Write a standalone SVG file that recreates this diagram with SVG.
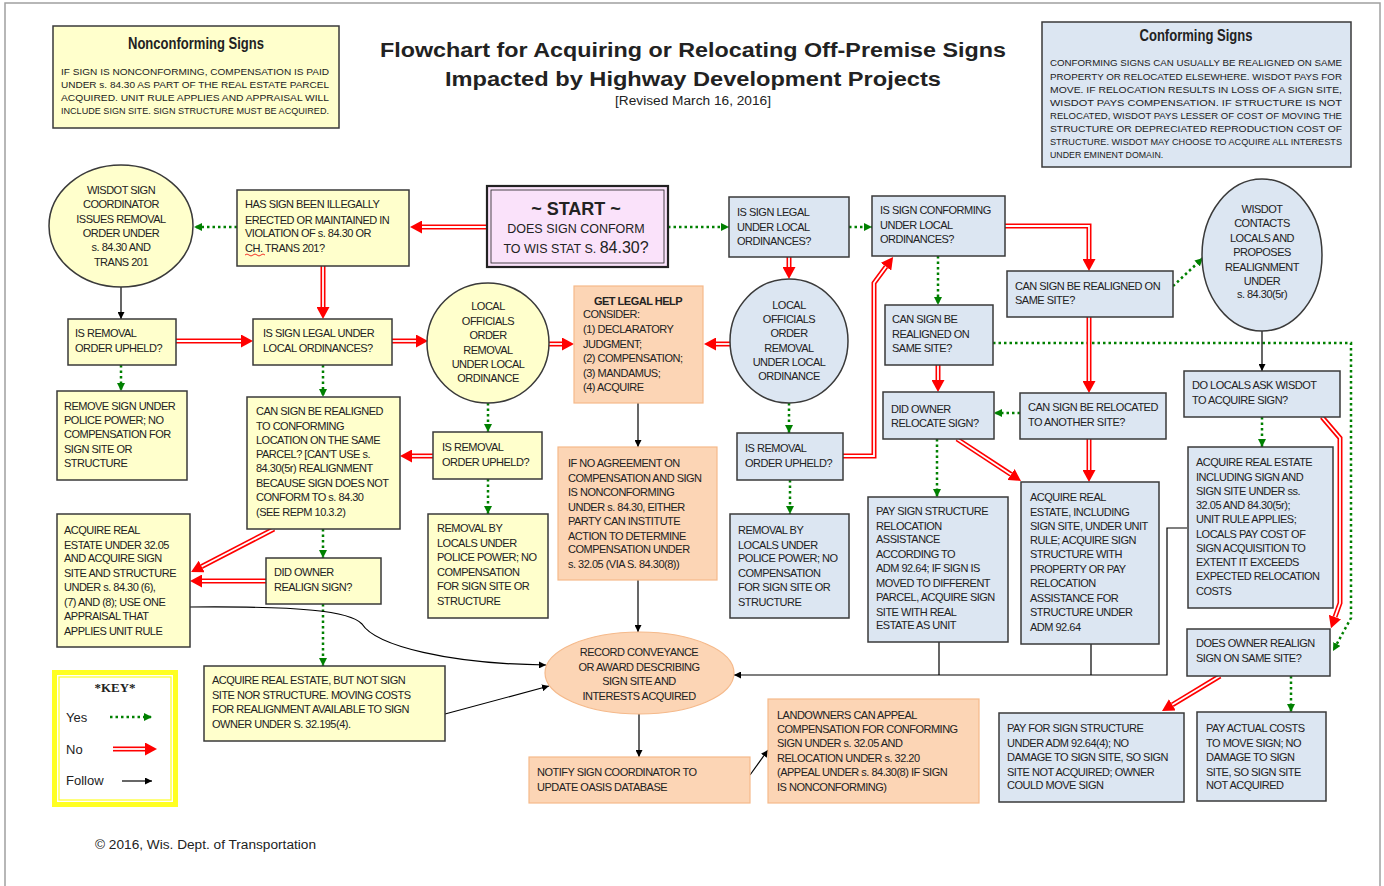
<svg xmlns="http://www.w3.org/2000/svg" width="1384" height="886" viewBox="0 0 1384 886">
<style>
text{font-family:"Liberation Sans",Arial,sans-serif;fill:#222}
.t{font-size:11px;letter-spacing:-0.5px}
.c{text-anchor:middle}
.j{font-size:8.8px}
.y{fill:#ffffcc;stroke:#3a3a3a;stroke-width:1.5}
.b{fill:#dce6f2;stroke:#3a3a3a;stroke-width:1.5}
.o{fill:#fcd5b5;stroke:#f5b98a;stroke-width:1.2}
.g{fill:none;stroke:#008000;stroke-width:2.5;stroke-dasharray:2.5 3;marker-end:url(#mg)}
.rd{fill:none;stroke:#ff0000;stroke-width:5;marker-end:url(#mr)}
.rw{fill:none;stroke:#fff;stroke-width:1.8}
.k{fill:none;stroke:#000;stroke-width:1.2;marker-end:url(#mk)}
</style>
<defs>
<marker id="mg" viewBox="0 0 8 8" refX="8" refY="4" markerWidth="8" markerHeight="8" markerUnits="userSpaceOnUse" orient="auto"><path d="M0,0 L8,4 L0,8 z" fill="#008000"/></marker>
<marker id="mr" viewBox="0 0 12 13" refX="0" refY="6.5" markerWidth="12" markerHeight="13" markerUnits="userSpaceOnUse" orient="auto"><path d="M0,0 L12,6.5 L0,13 z" fill="#ff0000"/></marker>
<marker id="mk" viewBox="0 0 7 7" refX="7" refY="3.5" markerWidth="7" markerHeight="7" markerUnits="userSpaceOnUse" orient="auto"><path d="M0,0 L7,3.5 L0,7 z" fill="#000"/></marker>
</defs>
<rect x="0" y="0" width="1384" height="886" fill="#fff"/>
<rect x="5" y="3" width="1375" height="900" fill="none" stroke="#a0a0a0" stroke-width="1.5"/>

<g id="title">
<text x="693" y="57" font-size="20" font-weight="bold" class="c" textLength="626" lengthAdjust="spacingAndGlyphs">Flowchart for Acquiring or Relocating Off-Premise Signs</text>
<text x="693" y="86" font-size="20" font-weight="bold" class="c" textLength="496" lengthAdjust="spacingAndGlyphs">Impacted by Highway Development Projects</text>
<text x="693" y="105" font-size="12" class="c" textLength="156" lengthAdjust="spacingAndGlyphs">[Revised March 16, 2016]</text>
</g>

<g id="nonconforming-note">
<rect x="53" y="26" width="286" height="102" class="y"/>
<text x="196" y="49" font-size="16" font-weight="bold" class="c" textLength="136" lengthAdjust="spacingAndGlyphs">Nonconforming Signs</text>
<text class="j" x="61" y="75" textLength="268" lengthAdjust="spacingAndGlyphs">IF SIGN IS NONCONFORMING, COMPENSATION IS PAID</text>
<text class="j" x="61" y="88" textLength="268" lengthAdjust="spacingAndGlyphs">UNDER s. 84.30 AS PART OF THE REAL ESTATE PARCEL</text>
<text class="j" x="61" y="101" textLength="268" lengthAdjust="spacingAndGlyphs">ACQUIRED. UNIT RULE APPLIES AND APPRAISAL WILL</text>
<text class="j" x="61" y="114" textLength="268" lengthAdjust="spacingAndGlyphs">INCLUDE SIGN SITE. SIGN STRUCTURE MUST BE ACQUIRED.</text>
</g>

<g id="conforming-note">
<rect x="1042" y="22" width="309" height="145" class="b"/>
<text x="1196" y="41" font-size="16" font-weight="bold" class="c" textLength="113" lengthAdjust="spacingAndGlyphs">Conforming Signs</text>
<text class="j" x="1050" y="66" textLength="292" lengthAdjust="spacingAndGlyphs">CONFORMING SIGNS CAN USUALLY BE REALIGNED ON SAME</text>
<text class="j" x="1050" y="80" textLength="292" lengthAdjust="spacingAndGlyphs">PROPERTY OR RELOCATED ELSEWHERE. WISDOT PAYS FOR</text>
<text class="j" x="1050" y="93" textLength="292" lengthAdjust="spacingAndGlyphs">MOVE. IF RELOCATION RESULTS IN LOSS OF A SIGN SITE,</text>
<text class="j" x="1050" y="106" textLength="292" lengthAdjust="spacingAndGlyphs">WISDOT PAYS COMPENSATION. IF STRUCTURE IS NOT</text>
<text class="j" x="1050" y="119" textLength="292" lengthAdjust="spacingAndGlyphs">RELOCATED, WISDOT PAYS LESSER OF COST OF MOVING THE</text>
<text class="j" x="1050" y="132" textLength="292" lengthAdjust="spacingAndGlyphs">STRUCTURE OR DEPRECIATED REPRODUCTION COST OF</text>
<text class="j" x="1050" y="145" textLength="292" lengthAdjust="spacingAndGlyphs">STRUCTURE. WISDOT MAY CHOOSE TO ACQUIRE ALL INTERESTS</text>
<text class="j" x="1050" y="158">UNDER EMINENT DOMAIN.</text>
</g>

<g id="connectors">
<!-- yes (green dotted) -->
<path class="g" d="M668,227 H729"/>
<path class="g" d="M237,227 H194"/>
<path class="g" d="M121,365 V391"/>
<path class="g" d="M323,365 V397"/>
<path class="g" d="M323,529 V558"/>
<path class="g" d="M323,604 V666"/>
<path class="g" d="M488,403 V432"/>
<path class="g" d="M488,479 V514"/>
<path class="g" d="M849,227 H872"/>
<path class="g" d="M789,403 V433"/>
<path class="g" d="M790,480 V514"/>
<path class="g" d="M938,256 V305"/>
<path class="g" d="M993,343 H1351 V618 L1333,651"/>
<path class="g" d="M1020,413 H994"/>
<path class="g" d="M937,439 V497"/>
<path class="g" d="M1173,286 L1203,258"/>
<path class="g" d="M1262,417 V447"/>
<path class="g" d="M1291,676 V712"/>
<!-- no (red double) -->
<path class="rd" d="M487,227 H422"/><path class="rw" d="M487,227 H422"/>
<path class="rd" d="M323,266 V307"/><path class="rw" d="M323,266 V307"/>
<path class="rd" d="M176,341 H241"/><path class="rw" d="M176,341 H241"/>
<path class="rd" d="M392,341 H416"/><path class="rw" d="M392,341 H416"/>
<path class="rd" d="M549,344 H562"/><path class="rw" d="M549,344 H562"/>
<path class="rd" d="M730,344 H716"/><path class="rw" d="M730,344 H716"/>
<path class="rd" d="M433,456 H412"/><path class="rw" d="M433,456 H412"/>
<path class="rd" d="M274,529 L201.7,566.5"/><path class="rw" d="M274,529 L201.7,566.5"/>
<path class="rd" d="M266,581 H202"/><path class="rw" d="M266,581 H202"/>
<path class="rd" d="M789,257 V267"/><path class="rw" d="M789,257 V267"/>
<path class="rd" d="M843,456 H874 V283 L886,266.7"/><path class="rw" d="M843,456 H874 V283 L886,266.7"/>
<path class="rd" d="M1005,226 H1089 V259"/><path class="rw" d="M1005,226 H1089 V259"/>
<path class="rd" d="M938,365 V380"/><path class="rw" d="M938,365 V380"/>
<path class="rd" d="M957,439 L1011,474.4"/><path class="rw" d="M957,439 L1011,474.4"/>
<path class="rd" d="M1089,317 V381"/><path class="rw" d="M1089,317 V381"/>
<path class="rd" d="M1089,439 V470"/><path class="rw" d="M1089,439 V470"/>
<path class="rd" d="M1322,417 L1340,438 V603 L1335,617"/><path class="rw" d="M1322,417 L1340,438 V603 L1335,617"/>
<path class="rd" d="M1220,676 L1172.3,704.8"/><path class="rw" d="M1220,676 L1172.3,704.8"/>
<!-- follow (black) -->
<path class="k" d="M121,287 V319"/>
<path class="k" d="M638,403 V447"/>
<path class="k" d="M638,580 V632"/>
<path class="k" d="M639,714 V757"/>
<path class="k" d="M750,775 L768,750"/>
<path class="k" d="M190,607 C300,606 350,611 362,624 C376,646 450,664 546,665"/>
<path class="k" d="M445,714 L549,686"/>
<path class="k" d="M1262,331 V371"/>
<path fill="none" stroke="#000" stroke-width="1.2" d="M939,642 V675 M1091,644 V675"/>
<path class="k" d="M1187,528 H1167 V675 H734"/>
</g>

<g id="start">
<rect x="487" y="186" width="181" height="81" fill="#fae2fa" stroke="#222" stroke-width="2.2"/>
<rect x="491" y="190" width="173" height="73" fill="none" stroke="#222" stroke-width="0.8"/>
<text x="576" y="215" font-size="18" font-weight="bold" class="c">~ START ~</text>
<text x="576" y="233" font-size="12.5" class="c">DOES SIGN CONFORM</text>
<text x="576" y="253" font-size="12.5" class="c">TO WIS STAT S. <tspan font-size="16">84.30?</tspan></text>
</g>

<g id="has-sign-illegal">
<rect x="237" y="190" width="172" height="76" class="y"/>
<text class="t"><tspan x="245" y="208">HAS SIGN BEEN ILLEGALLY</tspan><tspan x="245" y="224">ERECTED OR MAINTAINED IN</tspan><tspan x="245" y="237">VIOLATION OF s. 84.30 OR</tspan><tspan x="245" y="252">CH. TRANS 201?</tspan></text>
<path d="M245,255 q2,-2 4,0 t4,0 t4,0 t4,0 t4,0" fill="none" stroke="#e00" stroke-width="0.8"/>
</g>

<g id="wisdot-coordinator">
<ellipse cx="121" cy="226" rx="72" ry="61" class="y"/>
<text class="t c"><tspan x="121" y="194">WISDOT SIGN</tspan><tspan x="121" y="208">COORDINATOR</tspan><tspan x="121" y="223">ISSUES REMOVAL</tspan><tspan x="121" y="237">ORDER UNDER</tspan><tspan x="121" y="251">s. 84.30 AND</tspan><tspan x="121" y="266">TRANS 201</tspan></text>
</g>

<g id="removal-upheld-1">
<rect x="68" y="319" width="108" height="46" class="y"/>
<text class="t"><tspan x="75" y="337">IS REMOVAL</tspan><tspan x="75" y="352">ORDER UPHELD?</tspan></text>
</g>

<g id="remove-police-power">
<rect x="57" y="391" width="130" height="89" class="y"/>
<text class="t"><tspan x="64" y="410">REMOVE SIGN UNDER</tspan><tspan x="64" y="424">POLICE POWER; NO</tspan><tspan x="64" y="438">COMPENSATION FOR</tspan><tspan x="64" y="453">SIGN SITE OR</tspan><tspan x="64" y="467">STRUCTURE</tspan></text>
</g>

<g id="legal-local-1">
<rect x="253" y="319" width="139" height="46" class="y"/>
<text class="t"><tspan x="263" y="337">IS SIGN LEGAL UNDER</tspan><tspan x="263" y="352">LOCAL ORDINANCES?</tspan></text>
</g>

<g id="realign-conforming">
<rect x="247" y="397" width="153" height="132" class="y"/>
<text class="t"><tspan x="256" y="415">CAN SIGN BE REALIGNED</tspan><tspan x="256" y="430">TO CONFORMING</tspan><tspan x="256" y="444">LOCATION ON THE SAME</tspan><tspan x="256" y="458">PARCEL? [CAN'T USE s.</tspan><tspan x="256" y="472">84.30(5r) REALIGNMENT</tspan><tspan x="256" y="487">BECAUSE SIGN DOES NOT</tspan><tspan x="256" y="501">CONFORM TO s. 84.30</tspan><tspan x="256" y="516">(SEE REPM 10.3.2)</tspan></text>
</g>

<g id="did-owner-realign">
<rect x="266" y="558" width="115" height="46" class="y"/>
<text class="t"><tspan x="274" y="576">DID OWNER</tspan><tspan x="274" y="591">REALIGN SIGN?</tspan></text>
</g>

<g id="acquire-32-05">
<rect x="57" y="514" width="133" height="133" class="y"/>
<text class="t"><tspan x="64" y="534">ACQUIRE REAL</tspan><tspan x="64" y="549">ESTATE UNDER 32.05</tspan><tspan x="64" y="562">AND ACQUIRE SIGN</tspan><tspan x="64" y="577">SITE AND STRUCTURE</tspan><tspan x="64" y="591">UNDER s. 84.30 (6),</tspan><tspan x="64" y="606">(7) AND (8); USE ONE</tspan><tspan x="64" y="620">APPRAISAL THAT</tspan><tspan x="64" y="635">APPLIES UNIT RULE</tspan></text>
</g>

<g id="acquire-not-sign">
<rect x="204" y="666" width="241" height="75" class="y"/>
<text class="t"><tspan x="212" y="684">ACQUIRE REAL ESTATE, BUT NOT SIGN</tspan><tspan x="212" y="699">SITE NOR STRUCTURE.  MOVING COSTS</tspan><tspan x="212" y="713">FOR REALIGNMENT AVAILABLE TO SIGN</tspan><tspan x="212" y="728">OWNER UNDER S. 32.195(4).</tspan></text>
</g>

<g id="local-officials-1">
<ellipse cx="488" cy="343" rx="61" ry="60" class="y"/>
<text class="t c"><tspan x="488" y="310">LOCAL</tspan><tspan x="488" y="325">OFFICIALS</tspan><tspan x="488" y="339">ORDER</tspan><tspan x="488" y="354">REMOVAL</tspan><tspan x="488" y="368">UNDER LOCAL</tspan><tspan x="488" y="382">ORDINANCE</tspan></text>
</g>

<g id="removal-upheld-2">
<rect x="433" y="432" width="109" height="47" class="y"/>
<text class="t"><tspan x="442" y="451">IS REMOVAL</tspan><tspan x="442" y="466">ORDER UPHELD?</tspan></text>
</g>

<g id="removal-locals-1">
<rect x="428" y="514" width="120" height="104" class="y"/>
<text class="t"><tspan x="437" y="532">REMOVAL BY</tspan><tspan x="437" y="547">LOCALS UNDER</tspan><tspan x="437" y="561">POLICE POWER; NO</tspan><tspan x="437" y="576">COMPENSATION</tspan><tspan x="437" y="590">FOR SIGN SITE OR</tspan><tspan x="437" y="605">STRUCTURE</tspan></text>
</g>

<g id="legal-help">
<rect x="574" y="286" width="129" height="117" class="o"/>
<text class="t c" x="638" y="305" font-weight="bold">GET LEGAL HELP</text>
<text class="t"><tspan x="583" y="318">CONSIDER:</tspan><tspan x="583" y="333">(1) DECLARATORY</tspan><tspan x="583" y="348">JUDGMENT;</tspan><tspan x="583" y="362">(2) COMPENSATION;</tspan><tspan x="583" y="377">(3) MANDAMUS;</tspan><tspan x="583" y="391">(4) ACQUIRE</tspan></text>
</g>

<g id="no-agreement">
<rect x="558" y="447" width="159" height="133" class="o"/>
<text class="t"><tspan x="568" y="467">IF NO AGREEMENT ON</tspan><tspan x="568" y="482">COMPENSATION AND SIGN</tspan><tspan x="568" y="496">IS NONCONFORMING</tspan><tspan x="568" y="511">UNDER s. 84.30, EITHER</tspan><tspan x="568" y="525">PARTY CAN INSTITUTE</tspan><tspan x="568" y="540">ACTION TO DETERMINE</tspan><tspan x="568" y="553">COMPENSATION UNDER</tspan><tspan x="568" y="568">s. 32.05 (VIA S. 84.30(8))</tspan></text>
</g>

<g id="record-conveyance">
<ellipse cx="639.5" cy="673" rx="94.5" ry="41" class="o"/>
<text class="t c"><tspan x="639" y="656">RECORD CONVEYANCE</tspan><tspan x="639" y="671">OR AWARD DESCRIBING</tspan><tspan x="639" y="685">SIGN SITE AND</tspan><tspan x="639" y="700">INTERESTS ACQUIRED</tspan></text>
</g>

<g id="notify-coordinator">
<rect x="529" y="757" width="221" height="46" class="o"/>
<text class="t"><tspan x="537" y="776">NOTIFY SIGN COORDINATOR TO</tspan><tspan x="537" y="791">UPDATE OASIS DATABASE</tspan></text>
</g>

<g id="landowners-appeal">
<rect x="768" y="699" width="211" height="104" class="o"/>
<text class="t"><tspan x="777" y="719">LANDOWNERS CAN APPEAL</tspan><tspan x="777" y="733">COMPENSATION FOR CONFORMING</tspan><tspan x="777" y="747">SIGN UNDER s. 32.05 AND</tspan><tspan x="777" y="762">RELOCATION UNDER s. 32.20</tspan><tspan x="777" y="776">(APPEAL UNDER s. 84.30(8) IF SIGN</tspan><tspan x="777" y="791">IS NONCONFORMING)</tspan></text>
</g>

<g id="legal-local-2">
<rect x="729" y="197" width="120" height="60" class="b"/>
<text class="t"><tspan x="737" y="216">IS SIGN LEGAL</tspan><tspan x="737" y="231">UNDER LOCAL</tspan><tspan x="737" y="245">ORDINANCES?</tspan></text>
</g>

<g id="local-officials-2">
<ellipse cx="789" cy="341" rx="59" ry="62" class="b"/>
<text class="t c"><tspan x="789" y="309">LOCAL</tspan><tspan x="789" y="323">OFFICIALS</tspan><tspan x="789" y="337">ORDER</tspan><tspan x="789" y="352">REMOVAL</tspan><tspan x="789" y="366">UNDER LOCAL</tspan><tspan x="789" y="380">ORDINANCE</tspan></text>
</g>

<g id="removal-upheld-3">
<rect x="737" y="433" width="106" height="47" class="b"/>
<text class="t"><tspan x="745" y="452">IS REMOVAL</tspan><tspan x="745" y="467">ORDER UPHELD?</tspan></text>
</g>

<g id="removal-locals-2">
<rect x="730" y="514" width="119" height="104" class="b"/>
<text class="t"><tspan x="738" y="534">REMOVAL BY</tspan><tspan x="738" y="549">LOCALS UNDER</tspan><tspan x="738" y="562">POLICE POWER; NO</tspan><tspan x="738" y="577">COMPENSATION</tspan><tspan x="738" y="591">FOR SIGN SITE OR</tspan><tspan x="738" y="606">STRUCTURE</tspan></text>
</g>

<g id="conforming-local">
<rect x="872" y="196" width="133" height="60" class="b"/>
<text class="t"><tspan x="880" y="214">IS SIGN CONFORMING</tspan><tspan x="880" y="229">UNDER LOCAL</tspan><tspan x="880" y="243">ORDINANCES?</tspan></text>
</g>

<g id="realign-same-site-1">
<rect x="885" y="305" width="108" height="60" class="b"/>
<text class="t"><tspan x="892" y="323">CAN SIGN BE</tspan><tspan x="892" y="338">REALIGNED ON</tspan><tspan x="892" y="352">SAME SITE?</tspan></text>
</g>

<g id="did-owner-relocate">
<rect x="883" y="392" width="111" height="47" class="b"/>
<text class="t"><tspan x="891" y="413">DID OWNER</tspan><tspan x="891" y="427">RELOCATE SIGN?</tspan></text>
</g>

<g id="pay-relocation">
<rect x="868" y="497" width="140" height="145" class="b"/>
<text class="t"><tspan x="876" y="515">PAY SIGN STRUCTURE</tspan><tspan x="876" y="530">RELOCATION</tspan><tspan x="876" y="543">ASSISTANCE</tspan><tspan x="876" y="558">ACCORDING TO</tspan><tspan x="876" y="572">ADM 92.64; IF SIGN IS</tspan><tspan x="876" y="587">MOVED TO DIFFERENT</tspan><tspan x="876" y="601">PARCEL, ACQUIRE SIGN</tspan><tspan x="876" y="616">SITE WITH REAL</tspan><tspan x="876" y="629">ESTATE AS UNIT</tspan></text>
</g>

<g id="acquire-unit-rule">
<rect x="1021" y="482" width="138" height="162" class="b"/>
<text class="t"><tspan x="1030" y="501">ACQUIRE REAL</tspan><tspan x="1030" y="516">ESTATE, INCLUDING</tspan><tspan x="1030" y="530">SIGN SITE, UNDER UNIT</tspan><tspan x="1030" y="544">RULE; ACQUIRE SIGN</tspan><tspan x="1030" y="558">STRUCTURE WITH</tspan><tspan x="1030" y="573">PROPERTY OR PAY</tspan><tspan x="1030" y="587">RELOCATION</tspan><tspan x="1030" y="602">ASSISTANCE FOR</tspan><tspan x="1030" y="616">STRUCTURE UNDER</tspan><tspan x="1030" y="631">ADM 92.64</tspan></text>
</g>

<g id="realign-same-site-2">
<rect x="1007" y="271" width="166" height="46" class="b"/>
<text class="t"><tspan x="1015" y="290">CAN SIGN BE REALIGNED ON</tspan><tspan x="1015" y="304">SAME SITE?</tspan></text>
</g>

<g id="relocate-another-site">
<rect x="1020" y="393" width="146" height="46" class="b"/>
<text class="t"><tspan x="1028" y="411">CAN SIGN BE RELOCATED</tspan><tspan x="1028" y="426">TO ANOTHER SITE?</tspan></text>
</g>

<g id="wisdot-contacts">
<ellipse cx="1262" cy="255" rx="60" ry="76" class="b"/>
<text class="t c"><tspan x="1262" y="213">WISDOT</tspan><tspan x="1262" y="227">CONTACTS</tspan><tspan x="1262" y="242">LOCALS AND</tspan><tspan x="1262" y="256">PROPOSES</tspan><tspan x="1262" y="271">REALIGNMENT</tspan><tspan x="1262" y="285">UNDER</tspan><tspan x="1262" y="298">s. 84.30(5r)</tspan></text>
</g>

<g id="locals-ask">
<rect x="1184" y="371" width="156" height="46" class="b"/>
<text class="t"><tspan x="1192" y="389">DO LOCALS ASK WISDOT</tspan><tspan x="1192" y="404">TO ACQUIRE SIGN?</tspan></text>
</g>

<g id="acquire-including-sign">
<rect x="1188" y="447" width="145" height="161" class="b"/>
<text class="t"><tspan x="1196" y="466">ACQUIRE REAL ESTATE</tspan><tspan x="1196" y="481">INCLUDING SIGN AND</tspan><tspan x="1196" y="495">SIGN SITE UNDER ss.</tspan><tspan x="1196" y="509">32.05 AND 84.30(5r);</tspan><tspan x="1196" y="523">UNIT RULE APPLIES;</tspan><tspan x="1196" y="538">LOCALS PAY COST OF</tspan><tspan x="1196" y="552">SIGN ACQUISITION TO</tspan><tspan x="1196" y="566">EXTENT IT EXCEEDS</tspan><tspan x="1196" y="580">EXPECTED RELOCATION</tspan><tspan x="1196" y="595">COSTS</tspan></text>
</g>

<g id="owner-realign-same">
<rect x="1187" y="629" width="143" height="47" class="b"/>
<text class="t"><tspan x="1196" y="647">DOES OWNER REALIGN</tspan><tspan x="1196" y="662">SIGN ON SAME SITE?</tspan></text>
</g>

<g id="pay-structure">
<rect x="999" y="713" width="185" height="89" class="b"/>
<text class="t"><tspan x="1007" y="732">PAY FOR SIGN STRUCTURE</tspan><tspan x="1007" y="747">UNDER ADM 92.64(4); NO</tspan><tspan x="1007" y="761">DAMAGE TO SIGN SITE, SO SIGN</tspan><tspan x="1007" y="776">SITE NOT ACQUIRED; OWNER</tspan><tspan x="1007" y="789">COULD MOVE SIGN</tspan></text>
</g>

<g id="pay-actual">
<rect x="1197" y="712" width="129" height="89" class="b"/>
<text class="t"><tspan x="1206" y="732">PAY ACTUAL COSTS</tspan><tspan x="1206" y="747">TO MOVE SIGN; NO</tspan><tspan x="1206" y="761">DAMAGE TO SIGN</tspan><tspan x="1206" y="776">SITE, SO SIGN SITE</tspan><tspan x="1206" y="789">NOT ACQUIRED</tspan></text>
</g>

<g id="key">
<rect x="54.5" y="672.5" width="121" height="132" fill="#fff" stroke="#ffff22" stroke-width="5"/>
<rect x="59" y="677" width="112" height="123" fill="none" stroke="#ffff22" stroke-width="1.2"/>
<text x="115" y="692" font-family="Liberation Serif,serif" font-size="13" font-weight="bold" class="c" style="font-family:'Liberation Serif',serif">*KEY*</text>
<text x="66" y="722" font-size="13">Yes</text>
<text x="66" y="754" font-size="13">No</text>
<text x="66" y="785" font-size="13">Follow</text>
<path class="g" d="M110,717 H152"/>
<path class="rd" d="M113,749 H145"/><path class="rw" d="M113,749 H145"/>
<path class="k" d="M122,781 H152"/>
</g>

<text x="95" y="849" font-size="12" fill="#333" textLength="221" lengthAdjust="spacingAndGlyphs">© 2016, Wis. Dept. of Transportation</text>
</svg>
